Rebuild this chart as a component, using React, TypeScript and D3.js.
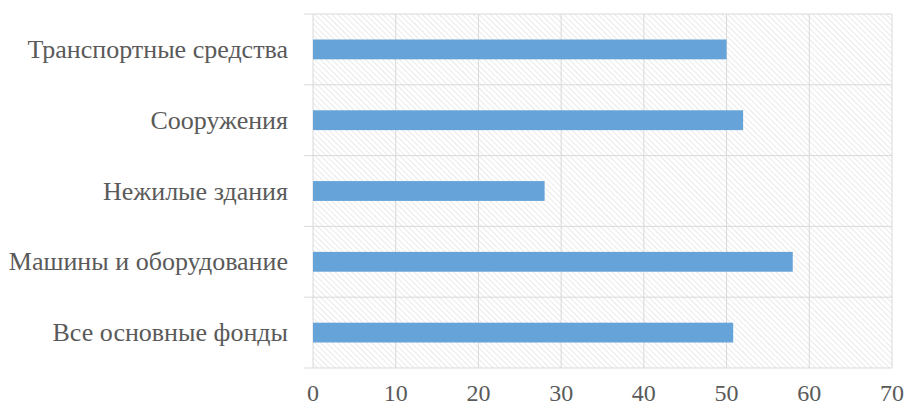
import React from "react";
import * as d3 from "d3";

const categories = [
  "Транспортные средства",
  "Сооружения",
  "Нежилые здания",
  "Машины и оборудование",
  "Все основные фонды",
];
const values = [50, 52, 28, 58, 50.8];
const xTicks = [0, 10, 20, 30, 40, 50, 60, 70];

export default function App() {
  const width = 907, height = 405;
  const left = 313, right = 892, top = 14, bottom = 368;

  const x = d3.scaleLinear().domain([0, 70]).range([left, right]);
  const y = d3.scaleBand().domain(categories).range([top, bottom]).paddingInner(0.72).paddingOuter(0.36);
  const band = d3.scaleBand().domain(categories).range([top, bottom]);
  const textColor = "#5a5a5a";

  return (
    <svg width={width} height={height} style={{ position: "absolute", left: 0, top: 0, fontFamily: "Liberation Serif, serif" }}>
      <defs>
        <pattern id="hatch" width="4" height="4" patternUnits="userSpaceOnUse" patternTransform="rotate(-45)">
          <line x1="0" y1="0" x2="0" y2="4" stroke="#dcdcdc" strokeWidth="1.2" />
        </pattern>
      </defs>
      <rect x={left} y={top} width={right - left} height={bottom - top} fill="url(#hatch)" />
      {xTicks.map(t => (
        <line key={t} x1={x(t)} x2={x(t)} y1={top} y2={bottom} stroke="#d9d9d9" strokeWidth={1} />
      ))}
      {categories.map(c => (
        <line key={c} x1={left - 9} x2={right} y1={band(c)} y2={band(c)} stroke="#d9d9d9" strokeWidth={1} />
      ))}
      <line x1={left - 9} x2={right} y1={bottom} y2={bottom} stroke="#d9d9d9" strokeWidth={1} />
      {categories.map((c, i) => (
        <rect key={c} x={x(0)} y={y(c)} width={x(values[i]) - x(0)} height={y.bandwidth()} fill="#65a3d9" />
      ))}
      {categories.map(c => (
        <text key={c} x={288} y={band(c)! + band.bandwidth() / 2 + 8.5} textAnchor="end"
          fontSize={26} fill={textColor}>{c}</text>
      ))}
      {xTicks.map(t => (
        <text key={t} x={x(t)} y={401} textAnchor="middle" fontSize={24} fill={textColor}>{t}</text>
      ))}
    </svg>
  );
}
